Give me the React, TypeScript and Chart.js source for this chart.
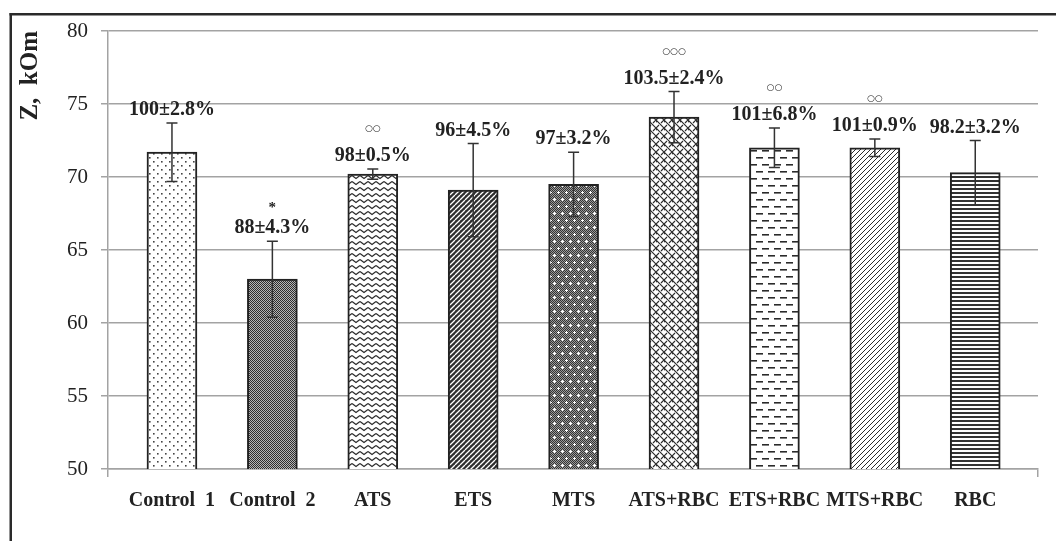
import React, { useEffect, useRef } from 'react';
import { Chart, registerables } from 'chart.js';

Chart.register(...registerables);

const categories = ['Control  1', 'Control  2', 'ATS', 'ETS', 'MTS', 'ATS+RBC', 'ETS+RBC', 'MTS+RBC', 'RBC'];
const values = [71.7, 63.0, 70.2, 69.1, 69.5, 74.1, 72.0, 72.0, 70.3];
const errors = [2.0, 2.6, 0.35, 3.2, 2.2, 1.75, 1.35, 0.6, 2.2];
const percentLabels = ['100±2.8%', '88±4.3%', '98±0.5%', '96±4.5%', '97±3.2%', '103.5±2.4%', '101±6.8%', '101±0.9%', '98.2±3.2%'];
const significance = ['', '*', '○○', '', '', '○○○', '○○', '○○', ''];
const yMin = 50;
const yMax = 80;
const yStep = 5;

const patternKinds = ['dots', 'check', 'zigzag', 'darkDiag', 'plusGrid', 'weave', 'dash', 'lightDiag', 'hlines'];

const SERIF = "'Liberation Serif', 'Times New Roman', serif";
const INK = '#2b2b2b';
const GRID = '#a3a3a3';

function makePattern(kind: string): CanvasPattern | string {
  const c = document.createElement('canvas');
  const g = c.getContext('2d');
  if (!g) return '#888';
  const size = (w: number, h: number) => { c.width = w; c.height = h; g.fillStyle = '#ffffff'; g.fillRect(0, 0, w, h); };
  switch (kind) {
    case 'dots':
      size(8, 8);
      g.fillStyle = '#444';
      g.fillRect(1, 1, 1.6, 1.6);
      g.fillRect(5, 5, 1.6, 1.6);
      break;
    case 'check':
      size(2, 2);
      g.fillStyle = '#b5b5b5';
      g.fillRect(0, 0, 2, 2);
      g.fillStyle = '#2e2e2e';
      g.fillRect(0, 0, 1, 1);
      g.fillRect(1, 1, 1, 1);
      break;
    case 'zigzag':
      size(8, 6);
      g.strokeStyle = INK;
      g.lineWidth = 1.2;
      g.beginPath();
      g.moveTo(0, 1.5); g.lineTo(4, 4.5); g.lineTo(8, 1.5);
      g.stroke();
      break;
    case 'darkDiag':
      size(5, 5);
      g.fillStyle = '#2e2e2e';
      g.fillRect(0, 0, 5, 5);
      g.strokeStyle = '#ffffff';
      g.lineWidth = 1.3;
      g.beginPath();
      for (const k of [-5, 0, 5]) { g.moveTo(k, 5); g.lineTo(k + 5, 0); }
      g.stroke();
      break;
    case 'plusGrid':
      size(8, 14);
      for (let yy = 0; yy < 14; yy++) for (let xx = 0; xx < 8; xx++) {
        g.fillStyle = (xx + yy) % 2 === 0 ? '#333333' : '#9a9a9a';
        g.fillRect(xx, yy, 1, 1);
      }
      g.fillStyle = '#ffffff';
      g.fillRect(1, 3, 3, 1); g.fillRect(2, 2, 1, 3);
      g.fillRect(5, 10, 3, 1); g.fillRect(6, 9, 1, 3);
      break;
    case 'weave':
      size(8, 8);
      g.strokeStyle = INK;
      g.lineWidth = 1.2;
      g.beginPath();
      g.moveTo(-1, -1); g.lineTo(9, 9);
      g.moveTo(0, 8); g.lineTo(3, 5);
      g.moveTo(5, 3); g.lineTo(8, 0);
      g.moveTo(-1, 3); g.lineTo(1, 1);
      g.moveTo(7, 11); g.lineTo(9, 9);
      g.stroke();
      break;
    case 'dash':
      size(12, 14);
      g.fillStyle = INK;
      g.fillRect(0, 3, 7, 1.6);
      g.fillRect(6, 10, 6, 1.6);
      g.fillRect(0, 10, 1, 1.6);
      break;
    case 'lightDiag':
      size(5, 5);
      g.strokeStyle = INK;
      g.lineWidth = 1;
      g.beginPath();
      for (const k of [-5, 0, 5]) { g.moveTo(k, 5); g.lineTo(k + 5, 0); }
      g.stroke();
      break;
    case 'hlines':
      size(4, 4);
      g.fillStyle = '#333333';
      g.fillRect(0, 0, 4, 2);
      break;
  }
  return g.createPattern(c, 'repeat') || '#888';
}

const overlayPlugin = {
  id: 'overlay',
  beforeDraw(chart: any) {
    const ctx = chart.ctx;
    ctx.save();
    ctx.fillStyle = '#2a2a2a';
    ctx.fillRect(9.5, 13, 2.5, chart.height);
    ctx.fillRect(9.5, 13, chart.width, 2.5);
    ctx.restore();
  },
  afterDatasetsDraw(chart: any) {
    const ctx = chart.ctx;
    const meta = chart.getDatasetMeta(0);
    const ys = chart.scales.y;
    ctx.save();
    meta.data.forEach((el: any, i: number) => {
      const x = el.x;
      const yT = ys.getPixelForValue(values[i] + errors[i]);
      const yB = ys.getPixelForValue(values[i] - errors[i]);
      ctx.strokeStyle = '#333';
      ctx.lineWidth = 1.5;
      ctx.beginPath();
      ctx.moveTo(x, yT); ctx.lineTo(x, yB);
      ctx.moveTo(x - 5.5, yT); ctx.lineTo(x + 5.5, yT);
      ctx.moveTo(x - 5.5, yB); ctx.lineTo(x + 5.5, yB);
      ctx.stroke();

      const ly = yT - 13;
      ctx.fillStyle = '#222';
      ctx.textAlign = 'center';
      ctx.textBaseline = 'middle';
      ctx.font = `bold 20px ${SERIF}`;
      ctx.fillText(percentLabels[i], x, ly);
      const mark = significance[i];
      if (mark) {
        if (mark === '*') {
          ctx.font = `bold 15px ${SERIF}`;
          ctx.fillText(mark, x, ly - 20);
        } else {
          ctx.font = `bold 9px 'DejaVu Sans', sans-serif`;
          ctx.fillText(mark, x, ly - 27);
        }
      }
    });
    ctx.restore();
  },
};

export default function App() {
  const ref = useRef<HTMLCanvasElement | null>(null);
  useEffect(() => {
    const canvas = ref.current;
    if (!canvas) return;
    const patterns = patternKinds.map(makePattern);
    const chart = new Chart(canvas, {
      type: 'bar',
      data: {
        datasets: [
          {
            data: categories.map((_, i) => ({ x: i, y: values[i] })),
            backgroundColor: patterns as any,
            borderColor: '#222',
            borderWidth: 2,
            borderSkipped: false,
            barThickness: 50,
          } as any,
        ],
      },
      options: {
        animation: false,
        responsive: false,
        devicePixelRatio: 1,
        layout: { padding: { left: 12, top: 31, right: 18, bottom: 0 } },
        plugins: { legend: { display: false }, tooltip: { enabled: false } },
        scales: {
          x: {
            type: 'linear',
            min: -0.637,
            max: 8.625,
            offset: false,
            afterBuildTicks: (s: any) => {
              s.ticks = [s.min, ...categories.map((_, i) => i), s.max].map((v) => ({ value: v }));
            },
            afterFit: (s: any) => { s.height = 72; },
            ticks: {
              autoSkip: false,
              maxRotation: 0,
              minRotation: 0,
              padding: 12,
              color: '#222',
              font: { family: SERIF, size: 20, weight: 'bold' },
              callback: (v: any) => (Number.isInteger(v) && v >= 0 && v < categories.length ? categories[v] : ''),
            },
            grid: {
              offset: false,
              drawOnChartArea: false,
              drawTicks: true,
              tickLength: 8,
              lineWidth: 1.5,
              color: (c: any) => (c.index === 0 || c.index === categories.length + 1 ? GRID : 'rgba(0,0,0,0)'),
            },
            border: { display: true, color: GRID, width: 1.5 },
          } as any,
          y: {
            min: yMin,
            max: yMax,
            afterFit: (s: any) => { s.width = 96; },
            ticks: { stepSize: yStep, padding: 13, color: '#222', font: { family: SERIF, size: 21 } },
            grid: { color: GRID, lineWidth: 1.5, tickLength: 7 },
            border: { display: true, color: GRID, width: 1.5 },
            title: {
              display: true,
              text: 'Z,  kOm',
              align: 'end',
              color: '#222',
              font: { family: SERIF, size: 25, weight: 'bold' },
              padding: { top: 4, bottom: 0 },
            },
          } as any,
        },
      },
      plugins: [overlayPlugin],
    });
    return () => chart.destroy();
  }, []);
  return (
    <canvas
      ref={ref}
      width={1056}
      height={541}
      style={{ position: 'fixed', left: 0, top: 0, width: 1056, height: 541, background: '#fff' }}
    />
  );
}
